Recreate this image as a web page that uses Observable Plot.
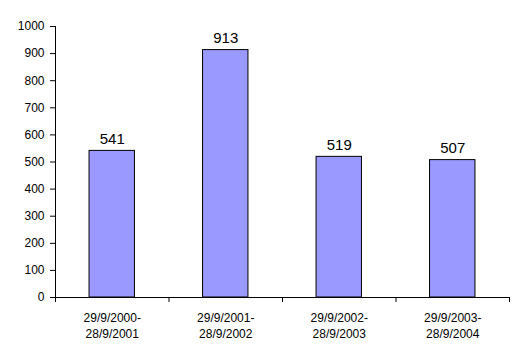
<!DOCTYPE html>
<html>
<head>
<meta charset="utf-8">
<script src="https://cdn.jsdelivr.net/npm/d3@7"></script>
<script src="https://cdn.jsdelivr.net/npm/@observablehq/plot@0.6"></script>
<style>
  html, body { margin: 0; padding: 0; background: #fff; }
  svg { font-family: Arial, "Liberation Sans", sans-serif; }
</style>
</head>
<body>
<div id="chart"></div>
<script>
const periods = ["29/9/2000-\n28/9/2001", "29/9/2001-\n28/9/2002", "29/9/2002-\n28/9/2003", "29/9/2003-\n28/9/2004"];
const values = [541, 913, 519, 507];
const yTicks = [0, 100, 200, 300, 400, 500, 600, 700, 800, 900, 1000];

const data = periods.map((p, i) => ({i, period: p, value: values[i]}));
const boundaries = d3.range(periods.length + 1);

const chart = Plot.plot({
  width: 524,
  height: 360,
  marginLeft: 55,
  marginRight: 15,
  marginTop: 26,
  marginBottom: 63,
  style: {fontFamily: "Arial, 'Liberation Sans', sans-serif", fontSize: "12px", color: "#000", background: "#fff"},
  x: {type: "linear", domain: [0, periods.length], axis: null},
  y: {domain: [0, 1000], axis: null},
  marks: [
    Plot.rectY(data, {x1: d => d.i + 0.3, x2: d => d.i + 0.7, y: "value", fill: "#9999ff", stroke: "#000", strokeWidth: 1}),
    Plot.axisY({ticks: yTicks, tickSize: 5, tickPadding: 6, fontSize: 12, label: null, tickFormat: d => String(d), stroke: "#000", strokeOpacity: 1, fill: "#000"}),
    Plot.ruleX([0], {stroke: "#000"}),
    Plot.ruleY([0], {stroke: "#000"}),
    Plot.axisX({ticks: boundaries, tickSize: 5, tickFormat: () => "", label: null, stroke: "#000", strokeOpacity: 1}),
    Plot.text(data, {x: d => d.i + 0.5, y: 0, text: "period", lineAnchor: "top", dy: 13, fontSize: 12, lineHeight: 1.35, fill: "#000"}),
    Plot.text(data, {x: d => d.i + 0.5, y: "value", text: d => String(d.value), lineAnchor: "bottom", dy: -7, fontSize: 15, fill: "#000"})
  ]
});
document.getElementById("chart").appendChild(chart);
</script>
</body>
</html>
